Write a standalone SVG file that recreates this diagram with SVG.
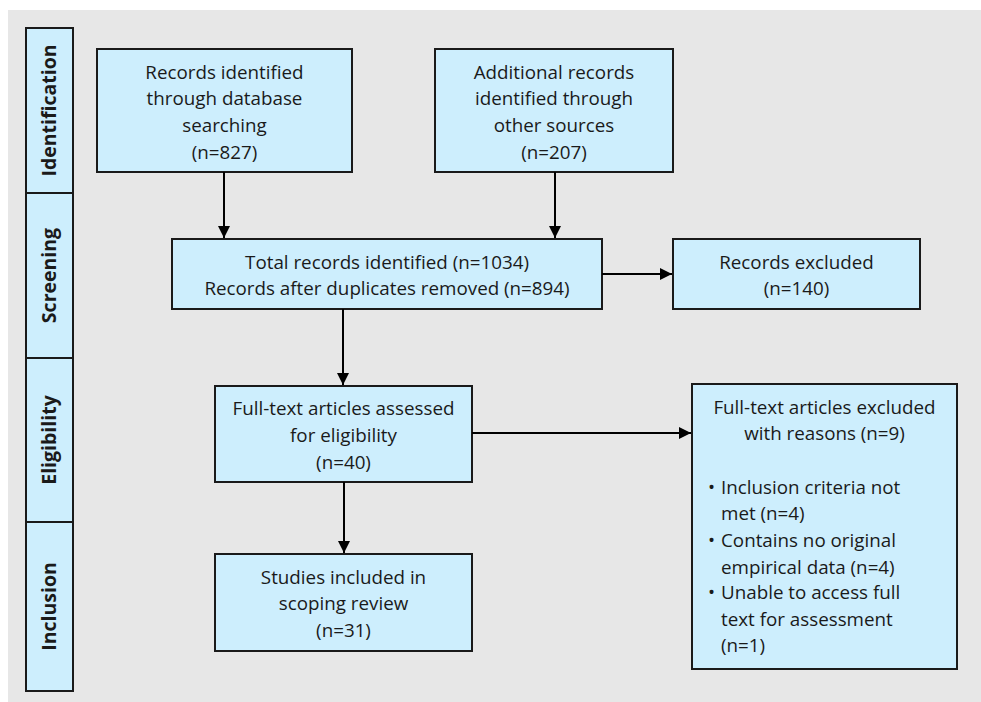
<svg xmlns="http://www.w3.org/2000/svg" width="981" height="702" viewBox="0 0 981 702">
<defs>
<style>
.box{fill:#cdeefd;stroke:#1a1a1a;stroke-width:2}
.t{font-family:"Open Sans","Liberation Sans",sans-serif;font-size:18.8px;fill:#1a1a1a;text-anchor:middle}
.tl{font-family:"Open Sans","Liberation Sans",sans-serif;font-size:18.8px;fill:#1a1a1a}
.st{font-family:"Open Sans","Liberation Sans",sans-serif;font-size:19.5px;font-weight:bold;fill:#1a1a1a;text-anchor:middle}
.c{stroke:#000;stroke-width:2;fill:none;marker-end:url(#ah)}
</style>
<marker id="ah" viewBox="0 0 10 10" refX="10" refY="5" markerWidth="6" markerHeight="6" markerUnits="strokeWidth" orient="auto">
<path d="M0,0 L10,5 L0,10 z" fill="#000"/>
</marker>
</defs>
<rect x="0" y="0" width="981" height="702" fill="#ffffff"/>
<rect x="8" y="10" width="973" height="692" fill="#e7e7e7"/>

<g id="stage-identification">
<rect class="box" x="26" y="28" width="47" height="165"/>
<text class="st" transform="translate(56,110.5) rotate(-90)">Identification</text>
</g>
<g id="stage-screening">
<rect class="box" x="26" y="193" width="47" height="165"/>
<text class="st" transform="translate(56,275.5) rotate(-90)">Screening</text>
</g>
<g id="stage-eligibility">
<rect class="box" x="26" y="358" width="47" height="164"/>
<text class="st" transform="translate(56,440) rotate(-90)">Eligibility</text>
</g>
<g id="stage-inclusion">
<rect class="box" x="26" y="522" width="47" height="169"/>
<text class="st" transform="translate(56,606.5) rotate(-90)">Inclusion</text>
</g>

<g id="node-database">
<rect class="box" x="97" y="49" width="255" height="123"/>
<text class="t" x="224.5" y="78.5">Records identified</text>
<text class="t" x="224.5" y="105">through database</text>
<text class="t" x="224.5" y="132">searching</text>
<text class="t" x="224.5" y="158.5">(n=827)</text>
</g>
<g id="node-other">
<rect class="box" x="435" y="49" width="238" height="123"/>
<text class="t" x="554" y="78.5">Additional records</text>
<text class="t" x="554" y="105">identified through</text>
<text class="t" x="554" y="132">other sources</text>
<text class="t" x="554" y="158.5">(n=207)</text>
</g>
<g id="node-total">
<rect class="box" x="172" y="239" width="430" height="70"/>
<text class="t" x="387" y="268.5">Total records identified (n=1034)</text>
<text class="t" x="387" y="294.5">Records after duplicates removed (n=894)</text>
</g>
<g id="node-excluded">
<rect class="box" x="673" y="239" width="247" height="70"/>
<text class="t" x="796.5" y="268.5">Records excluded</text>
<text class="t" x="796.5" y="294.5">(n=140)</text>
</g>
<g id="node-assessed">
<rect class="box" x="215" y="386" width="257" height="96"/>
<text class="t" x="343.5" y="414.5">Full-text articles assessed</text>
<text class="t" x="343.5" y="441.5">for eligibility</text>
<text class="t" x="343.5" y="468.5">(n=40)</text>
</g>
<g id="node-included">
<rect class="box" x="215" y="554" width="257" height="97"/>
<text class="t" x="343.5" y="583.5">Studies included in</text>
<text class="t" x="343.5" y="609.5">scoping review</text>
<text class="t" x="343.5" y="636.5">(n=31)</text>
</g>
<g id="node-fulltext-excluded">
<rect class="box" x="692" y="384" width="265" height="285"/>
<text class="t" x="824.5" y="413.5">Full-text articles excluded</text>
<text class="t" x="824.5" y="439.5">with reasons (n=9)</text>
<text class="tl" x="708" y="493.5">•</text>
<text class="tl" x="721" y="493.5">Inclusion criteria not</text>
<text class="tl" x="721" y="519.5">met (n=4)</text>
<text class="tl" x="708" y="546.5">•</text>
<text class="tl" x="721" y="546.5">Contains no original</text>
<text class="tl" x="721" y="573.5">empirical data (n=4)</text>
<text class="tl" x="708" y="598.5">•</text>
<text class="tl" x="721" y="598.5">Unable to access full</text>
<text class="tl" x="721" y="625.5">text for assessment</text>
<text class="tl" x="721" y="651.5">(n=1)</text>
</g>

<g id="connectors">
<line class="c" x1="224" y1="172" x2="224" y2="238"/>
<line class="c" x1="555" y1="172" x2="555" y2="238"/>
<line class="c" x1="602" y1="274" x2="672" y2="274"/>
<line class="c" x1="343" y1="309" x2="343" y2="385"/>
<line class="c" x1="344" y1="482" x2="344" y2="553"/>
<line class="c" x1="472" y1="433" x2="691" y2="433"/>
</g>
</svg>
